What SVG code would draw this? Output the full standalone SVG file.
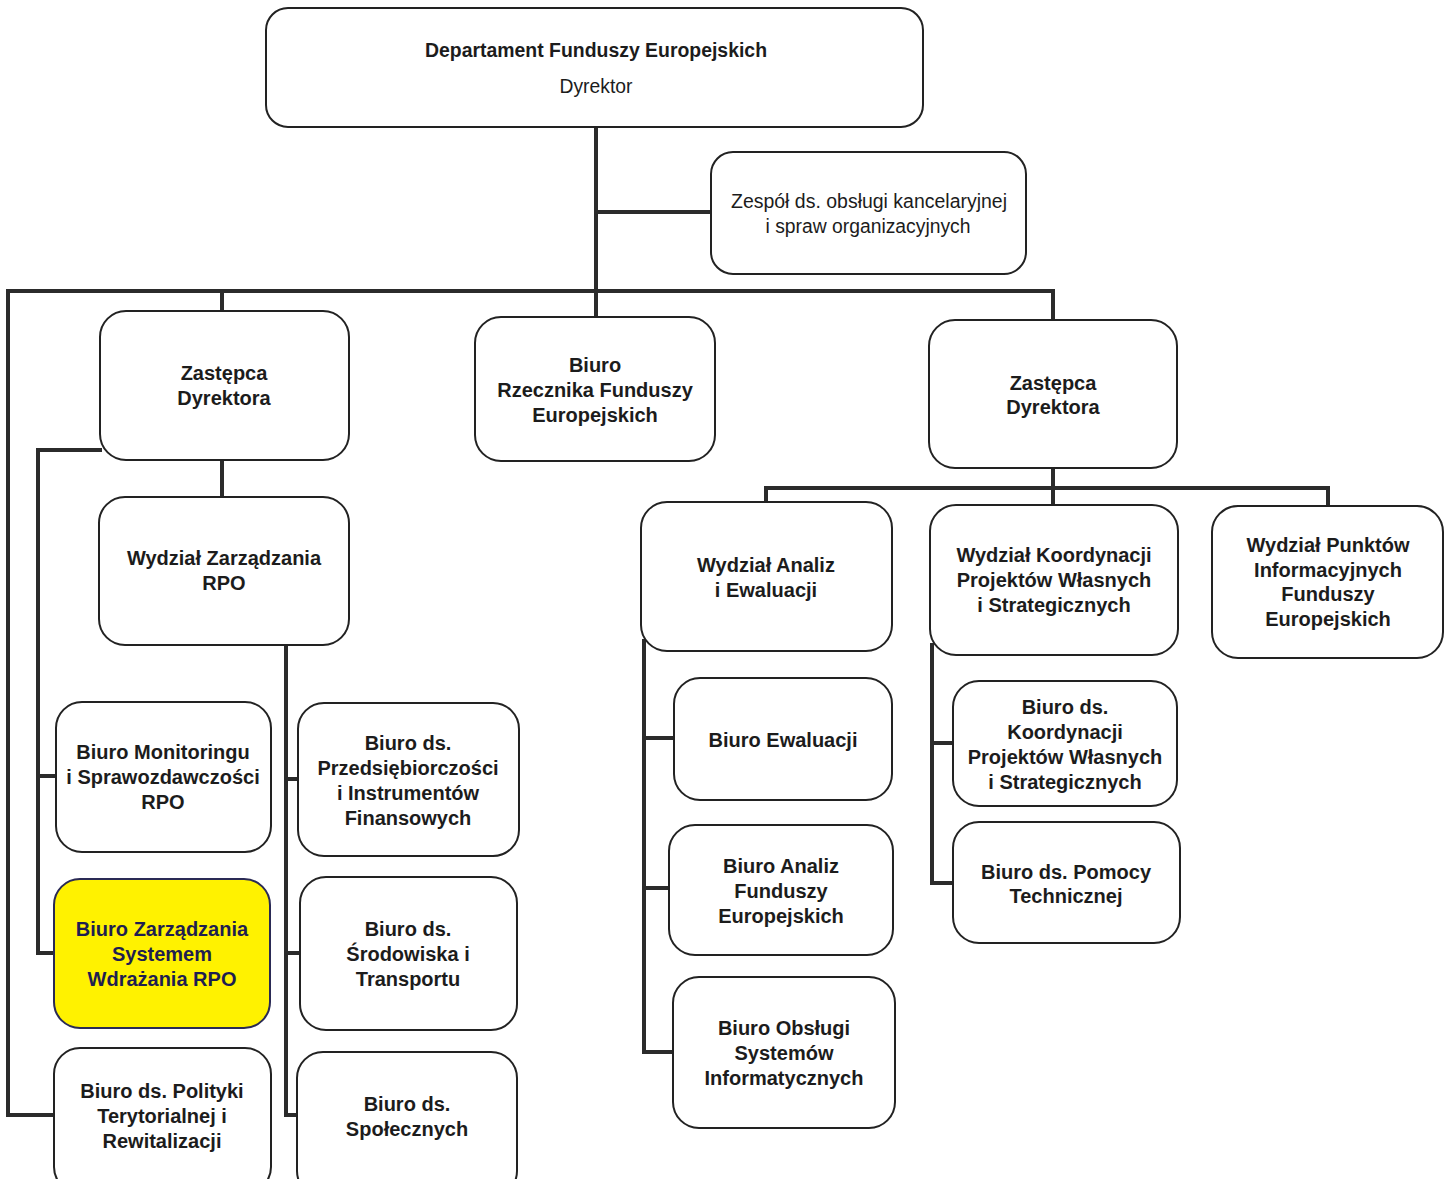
<svg xmlns="http://www.w3.org/2000/svg" width="1450" height="1179" viewBox="0 0 1450 1179">
<style>
.box{fill:#fff;stroke:#222;stroke-width:2}
.hl{fill:#fff200;stroke:#2a2a55;stroke-width:2}
.c{fill:none;stroke:#2b2b2b;stroke-width:4;stroke-linejoin:miter;stroke-linecap:square}
text{font-family:"Liberation Sans",Arial,sans-serif;font-size:20px;fill:#1c1c1c;text-anchor:middle}
.b{font-weight:bold}
.hlt{fill:#1e1e50}
</style>
<rect width="1450" height="1179" fill="#fff"/>
<g id="connectors">
<path class="c" d="M596 127V317M596 212H711"/>
<path class="c" d="M8 291H1053V320M8 291V1115H55M222 291V311"/>
<path class="c" d="M222 460V497M100 450H38V953H55M38 776H56"/>
<path class="c" d="M286 645V1115H297M286 779H298M286 953H300"/>
<path class="c" d="M1053 468V505M766 502V488H1328V506"/>
<path class="c" d="M644 641V1052H673M644 738H674M644 888H669"/>
<path class="c" d="M932 645V883H953M932 743H953"/>
</g>
<g id="n-dyrektor"><rect class="box" x="266" y="8" width="657" height="119" rx="22"/>
<text class="b" x="596" y="57" textLength="342" lengthAdjust="spacingAndGlyphs">Departament Funduszy Europejskich</text>
<text x="596" y="93" textLength="73" lengthAdjust="spacingAndGlyphs">Dyrektor</text></g>
<g id="n-zespol"><rect class="box" x="711" y="152" width="315" height="122" rx="22"/>
<text x="869" y="208" textLength="276" lengthAdjust="spacingAndGlyphs">Zespół ds. obsługi kancelaryjnej</text>
<text x="868" y="233" textLength="205" lengthAdjust="spacingAndGlyphs">i spraw organizacyjnych</text></g>
<g id="n-zastepca-l"><rect class="box" x="100" y="311" width="249" height="149" rx="26"/>
<text class="b" x="224" y="380">Zastępca</text><text class="b" x="224" y="405">Dyrektora</text></g>
<g id="n-rzecznik"><rect class="box" x="475" y="317" width="240" height="144" rx="26"/>
<text class="b" x="595" y="372">Biuro</text><text class="b" x="595" y="397">Rzecznika Funduszy</text><text class="b" x="595" y="422">Europejskich</text></g>
<g id="n-zastepca-r"><rect class="box" x="929" y="320" width="248" height="148" rx="26"/>
<text class="b" x="1053" y="390">Zastępca</text><text class="b" x="1053" y="414">Dyrektora</text></g>
<g id="n-wz-rpo"><rect class="box" x="99" y="497" width="250" height="148" rx="26"/>
<text class="b" x="224" y="565">Wydział Zarządzania</text><text class="b" x="224" y="590">RPO</text></g>
<g id="n-monitoring"><rect class="box" x="56" y="702" width="215" height="150" rx="26"/>
<text class="b" x="163" y="759">Biuro Monitoringu</text><text class="b" x="163" y="784">i Sprawozdawczości</text><text class="b" x="163" y="809">RPO</text></g>
<g id="n-zarzadzania-systemem"><rect class="hl" x="54" y="879" width="216" height="149" rx="26"/>
<text class="b hlt" x="162" y="936">Biuro Zarządzania</text><text class="b hlt" x="162" y="961">Systemem</text><text class="b hlt" x="162" y="986">Wdrażania RPO</text></g>
<g id="n-polityki"><rect class="box" x="54" y="1048" width="217" height="145" rx="26"/>
<text class="b" x="162" y="1098">Biuro ds. Polityki</text><text class="b" x="162" y="1123">Terytorialnej i</text><text class="b" x="162" y="1148">Rewitalizacji</text></g>
<g id="n-przedsiebiorczosci"><rect class="box" x="298" y="703" width="221" height="153" rx="26"/>
<text class="b" x="408" y="750">Biuro ds.</text><text class="b" x="408" y="775">Przedsiębiorczości</text><text class="b" x="408" y="800">i Instrumentów</text><text class="b" x="408" y="825">Finansowych</text></g>
<g id="n-srodowiska"><rect class="box" x="300" y="877" width="217" height="153" rx="26"/>
<text class="b" x="408" y="936">Biuro ds.</text><text class="b" x="408" y="961">Środowiska i</text><text class="b" x="408" y="986">Transportu</text></g>
<g id="n-spolecznych"><rect class="box" x="297" y="1052" width="220" height="145" rx="26"/>
<text class="b" x="407" y="1111">Biuro ds.</text><text class="b" x="407" y="1136">Społecznych</text></g>
<g id="n-analiz-ewaluacji"><rect class="box" x="641" y="502" width="251" height="149" rx="26"/>
<text class="b" x="766" y="572">Wydział Analiz</text><text class="b" x="766" y="597">i Ewaluacji</text></g>
<g id="n-koordynacji"><rect class="box" x="930" y="505" width="248" height="150" rx="26"/>
<text class="b" x="1054" y="562">Wydział Koordynacji</text><text class="b" x="1054" y="587">Projektów Własnych</text><text class="b" x="1054" y="612">i Strategicznych</text></g>
<g id="n-punktow"><rect class="box" x="1212" y="506" width="231" height="152" rx="26"/>
<text class="b" x="1328" y="552">Wydział Punktów</text><text class="b" x="1328" y="577">Informacyjnych</text><text class="b" x="1328" y="601">Funduszy</text><text class="b" x="1328" y="626">Europejskich</text></g>
<g id="n-ewaluacji"><rect class="box" x="674" y="678" width="218" height="122" rx="26"/>
<text class="b" x="783" y="747">Biuro Ewaluacji</text></g>
<g id="n-analiz-fe"><rect class="box" x="669" y="825" width="224" height="130" rx="26"/>
<text class="b" x="781" y="873">Biuro Analiz</text><text class="b" x="781" y="898">Funduszy</text><text class="b" x="781" y="923">Europejskich</text></g>
<g id="n-obslugi"><rect class="box" x="673" y="977" width="222" height="151" rx="26"/>
<text class="b" x="784" y="1035">Biuro Obsługi</text><text class="b" x="784" y="1060">Systemów</text><text class="b" x="784" y="1085">Informatycznych</text></g>
<g id="n-biuro-koord"><rect class="box" x="953" y="681" width="224" height="125" rx="26"/>
<text class="b" x="1065" y="714">Biuro ds.</text><text class="b" x="1065" y="739">Koordynacji</text><text class="b" x="1065" y="764">Projektów Własnych</text><text class="b" x="1065" y="789">i Strategicznych</text></g>
<g id="n-pomocy"><rect class="box" x="953" y="822" width="227" height="121" rx="26"/>
<text class="b" x="1066" y="879">Biuro ds. Pomocy</text><text class="b" x="1066" y="903">Technicznej</text></g>
</svg>
